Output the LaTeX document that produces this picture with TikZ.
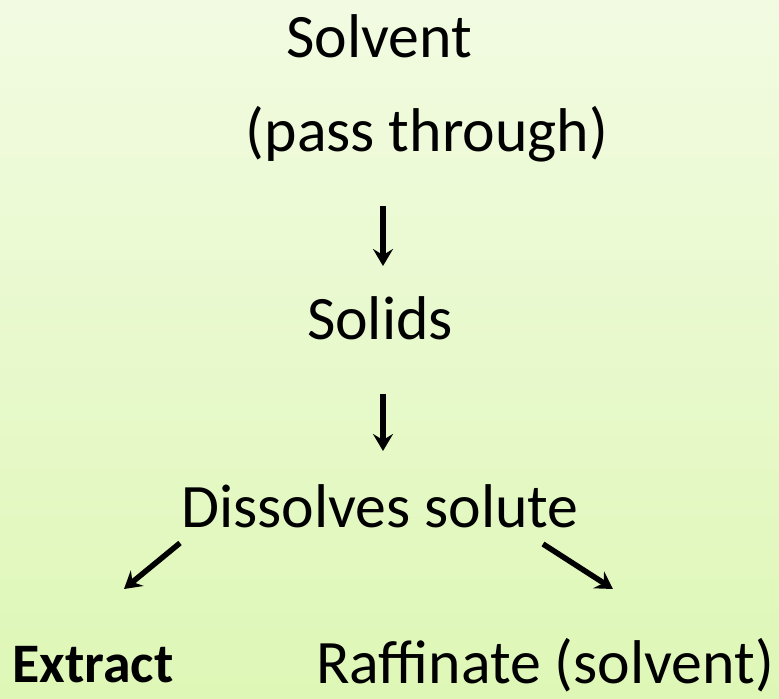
\documentclass[tikz,border=0pt]{standalone}
\usepackage{fontspec}
\setmainfont{Carlito}
\usetikzlibrary{arrows.meta}
\definecolor{bgtop}{HTML}{F2FBE2}
\definecolor{bgbot}{HTML}{DEF7B6}
\begin{document}
\begin{tikzpicture}[x=1bp,y=-1bp,
  lbl/.style={inner sep=0pt, font=\fontsize{62}{74}\selectfont, anchor=center},
  arr/.style={line width=5.5bp, -{Stealth[length=17bp,width=20bp,inset=6bp]}}]
\shade[top color=bgtop, bottom color=bgbot] (0,0) rectangle (779,699);
\path[use as bounding box] (0,0) rectangle (779,699);
\node[lbl] (solvent) at (379,36) {Solvent};
\node[lbl] (pass) at (427,134) {(pass through)};
\node[lbl] (solids) at (380,318) {Solids};
\node[lbl] (diss) at (380,506) {Dissolves solute};
\node[lbl, font=\bfseries\fontsize{56}{66}\selectfont] (extract) at (93,665) {Extract};
\node[lbl] (raff) at (545,665) {Raffinate (solvent)};
\coordinate (a1s) at (383,206);
\coordinate (a1e) at (383,266);
\coordinate (a2s) at (383,394);
\coordinate (a2e) at (383,451);
\coordinate (l1s) at (180,543);
\coordinate (l1e) at (124,589);
\coordinate (r1s) at (543,544);
\coordinate (r1e) at (613,589);
\draw[arr] (a1s) -- (a1e);
\draw[arr] (a2s) -- (a2e);
\draw[arr] (l1s) -- (l1e);
\draw[arr] (r1s) -- (r1e);
\end{tikzpicture}
\end{document}
